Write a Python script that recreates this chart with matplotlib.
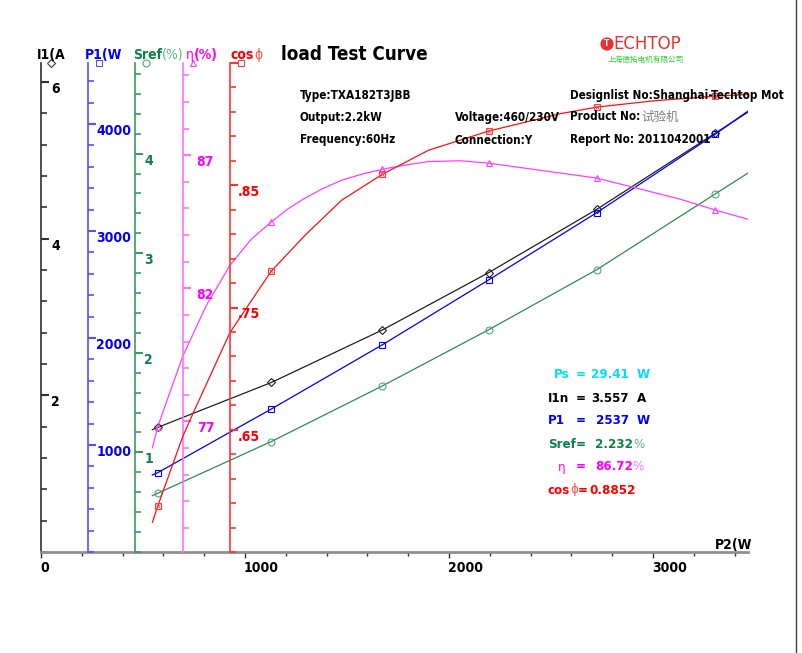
import numpy as np
import matplotlib
matplotlib.use('Agg')
import matplotlib.pyplot as plt
import matplotlib.transforms as mtransforms
from matplotlib.ticker import MultipleLocator, FixedLocator
from matplotlib import font_manager

# measured points (P2 in W)
p2_pts = [572, 1129, 1674, 2194, 2724, 3305]
i1_pts = [1.590, 2.163, 2.834, 3.564, 4.372, 5.344]
p1_pts = [741, 1336, 1937, 2542, 3171, 3904]
sref_pts = [0.590, 1.109, 1.668, 2.231, 2.834, 3.595]
eta_pts = [76.80, 84.49, 86.47, 86.70, 86.14, 84.94]
cos_pts = [0.5874, 0.7798, 0.8590, 0.8943, 0.9139, 0.9229]

# fitted curves
p2_lin = [546, 572, 1129, 1674, 2194, 2724, 3305, 3467]
i1_curve = [1.561, 1.590, 2.163, 2.834, 3.564, 4.372, 5.344, 5.615]
p1_curve = [720, 741, 1336, 1937, 2542, 3171, 3904, 4122]
sref_curve = [0.566, 0.590, 1.109, 1.668, 2.231, 2.834, 3.595, 3.806]

p2_eta = [546, 572, 695, 810, 926, 1030, 1129, 1210, 1286, 1380, 1474, 1574, 1674, 1780, 1899,
          2054, 2194, 2724, 3132, 3305, 3467]
eta_curve = [76.01, 76.80, 79.45, 81.35, 82.86, 83.84, 84.49, 84.98, 85.35, 85.74, 86.06, 86.29,
             86.47, 86.62, 86.76, 86.79, 86.70, 86.14, 85.35, 84.94, 84.59]

p2_cos = [546, 572, 695, 742, 926, 1129, 1300, 1474, 1674, 1899, 2194, 2544, 2724, 3000, 3305, 3467]
cos_curve = [0.5743, 0.5874, 0.6445, 0.6622, 0.7294, 0.7798, 0.8100, 0.8378, 0.8590, 0.8786,
             0.8943, 0.9085, 0.9139, 0.9190, 0.9229, 0.9243]

# rated values box
rated_names = ['Ps', 'I1n', 'P1', 'Sref', 'η', 'cosϕ']
rated_values = ['29.41', '3.557', '2537', '2.232', '86.72', '0.8852']
rated_units = ['W', 'A', 'W', '%', '%', '']
rated_colors = ['#00e0f0', '#000000', '#0000ff', '#108048', '#ff00ff', '#ff0000']

x_ticks = [0, 1000, 2000, 3000]
x_ticklabels = ['0', '1000', '2000', '3000']

names = {f.name for f in font_manager.fontManager.ttflist}
FAM = [n for n in ['Liberation Sans Narrow', 'DejaVu Sans Condensed'] if n in names] + ['DejaVu Sans']
CJK = ['Noto Sans CJK SC', 'DejaVu Sans']
plt.rcParams['font.stretch'] = 'condensed'

W, H = 803, 653
fig = plt.figure(figsize=(W / 100, H / 100), dpi=100)
fig.patch.set_facecolor('white')
renderer = fig.canvas.get_renderer()

def ftext(x, y, s, **kw):
    kw.setdefault('family', FAM)
    return fig.text(x / W, 1 - y / H, s, **kw)

def after(prev, s, gap=0, **kw):
    # put a text right after the previous one on the same line
    bb = prev.get_window_extent(renderer)
    y = prev.get_position()[1]
    kw.setdefault('family', FAM)
    kw.setdefault('va', prev.get_va())
    return fig.text((bb.x1 + gap) / W, y, s, **kw)

x0, x1, ytop, ybot = 41, 748, 63, 552
ax = fig.add_axes([x0 / W, (H - ybot) / H, (x1 - x0) / W, (ybot - ytop) / H])
ax.set_xlim(0, 3466)
ax.patch.set_alpha(0)
for s in ['top', 'right']:
    ax.spines[s].set_visible(False)
ax.spines['bottom'].set_color('#909090')
ax.spines['bottom'].set_linewidth(2)
ax.xaxis.set_major_locator(FixedLocator(x_ticks))
ax.xaxis.set_minor_locator(MultipleLocator(200))
ax.tick_params(axis='x', which='both', direction='out', length=3, width=1, color='#303030',
               labelbottom=False)
ax.tick_params(axis='x', which='major', length=4)

def setup_axis(a, ylim, majors, minor, axcol):
    a.set_ylim(*ylim)
    a.set_xlim(0, 3466)
    a.yaxis.set_major_locator(FixedLocator(majors))
    if isinstance(minor, (list, np.ndarray)):
        a.yaxis.set_minor_locator(FixedLocator(minor))
    else:
        a.yaxis.set_minor_locator(MultipleLocator(minor))
    a.tick_params(axis='y', which='major', direction='in', length=6, width=1.5, color=axcol,
                  labelleft=False, labelright=False)
    a.tick_params(axis='y', which='minor', direction='in', length=4, width=1.2, color=axcol)
    a.spines['left'].set_color(axcol)
    a.spines['left'].set_linewidth(1.2)

fracs = [0.0, 0.0669, 0.1334, 0.2004, 0.2678]
axes = [ax]
for f in fracs[1:]:
    t = ax.twinx()
    t.patch.set_visible(False)
    for s in ['top', 'right', 'bottom']:
        t.spines[s].set_visible(False)
    t.spines['left'].set_visible(True)
    t.spines['left'].set_position(('axes', f))
    t.yaxis.set_ticks_position('left')
    axes.append(t)
ax_i1, ax_p1, ax_sr, ax_eta, ax_cos = axes

axis_cols = ['#303030', '#5050ff', '#3a9a6a', '#ff70ff', '#ff3333']
text_cols = ['#000000', '#0000ff', '#10804a', '#ff00ff', '#ff0000']
setup_axis(ax_i1, (0, 6.24), [2, 4, 6], 0.4, axis_cols[0])
setup_axis(ax_p1, (0, 4570), [1000, 2000, 3000, 4000], 200, axis_cols[1])
setup_axis(ax_sr, (0, 4.91), [1, 2, 3, 4], 0.2, axis_cols[2])
setup_axis(ax_eta, (72.1, 90.46), [77, 82, 87], 1, axis_cols[3])
setup_axis(ax_cos, (0.55, 0.95), [0.65, 0.75, 0.85, 0.95],
           np.arange(0.55, 0.951, 0.02), axis_cols[4])

tick_labels = [
    ([2, 4, 6], ['2', '4', '6']),
    ([1000, 2000, 3000, 4000], ['1000', '2000', '3000', '4000']),
    ([1, 2, 3, 4], ['1', '2', '3', '4']),
    ([77, 82, 87], ['77', '82', '87']),
    ([0.65, 0.75, 0.85], ['.65', '.75', '.85']),
]
dxs = [10, 8, 9, 14, 7]
for a, f, (vals, labs), c, dx in zip(axes, fracs, tick_labels, text_cols, dxs):
    tr = mtransforms.blended_transform_factory(ax.transAxes, a.transData)
    tr = mtransforms.offset_copy(tr, fig=fig, x=dx, y=-7, units='dots')
    for v, l in zip(vals, labs):
        a.text(f, v, l, transform=tr, ha='left', va='center', color=c,
               fontsize=10, fontweight='bold', family=FAM)

# curves
ax_i1.plot(p2_lin, i1_curve, color='#202020', lw=0.9)
ax_i1.plot(p2_pts, i1_pts, ls='none', marker='D', ms=4, mfc='none', mec='#202020', mew=0.8)
ax_p1.plot(p2_lin, p1_curve, color='#0000ff', lw=0.9)
ax_p1.plot(p2_pts, p1_pts, ls='none', marker='s', ms=4, mfc='none', mec='#0000ff', mew=0.8)
ax_sr.plot(p2_lin, sref_curve, color='#2e8b57', lw=0.9)
ax_sr.plot(p2_pts, sref_pts, ls='none', marker='o', ms=5, mfc='none', mec='#50a878', mew=0.8)
ax_eta.plot(p2_eta, eta_curve, color='#ff40ff', lw=0.9)
ax_eta.plot(p2_pts, eta_pts, ls='none', marker='^', ms=5, mfc='none', mec='#ff40ff', mew=0.8)
ax_cos.plot(p2_cos, cos_curve, color='#ff1010', lw=0.9)
ax_cos.plot(p2_pts, cos_pts, ls='none', marker='s', ms=5, mfc='none', mec='#ff4040', mew=0.8)
ax_cos.plot(p2_pts, cos_pts, ls='none', marker='x', ms=3.5, mec='#ff4040', mew=0.6)

# symbols at the top of each axis
top_marks = [('D', '#404040', 4), ('s', '#5050ff', 4), ('o', '#50a878', 5), ('^', '#ff40ff', 5),
             ('s', '#ff4040', 5)]
for f, (m, c, ms) in zip(fracs, top_marks):
    ax.plot([f + 0.0145], [1.0], transform=ax.transAxes, marker=m, ms=ms, mfc='none', mec=c,
            mew=0.8, clip_on=False, ls='none')

# x tick labels
trx = mtransforms.blended_transform_factory(ax.transData, ax.transAxes)
trx = mtransforms.offset_copy(trx, fig=fig, x=-1, y=-16, units='dots')
for v, l in zip(x_ticks, x_ticklabels):
    ax.text(v, 0, l, transform=trx, ha='left', va='center', fontsize=10, fontweight='bold',
            family=FAM)
ftext(715, 545, 'P2(W', fontsize=10, fontweight='bold', va='center')

# axis titles
lab = dict(fontsize=10, va='center')
ftext(37, 55, 'I1(A', fontweight='bold', color='#000000', **lab)
ftext(85, 55, 'P1(W', fontweight='bold', color='#0000ff', **lab)
t = ftext(133, 55, 'Sref', fontweight='bold', color='#10804a', **lab)
after(t, '(%)', color='#60b088', fontsize=10)
t = ftext(186, 55, 'η', color='#ff00ff', **lab)
after(t, '(%)', color='#ff00ff', fontweight='bold', fontsize=10)
t = ftext(231, 55, 'cos', fontweight='bold', color='#ff0000', **lab)
after(t, 'ϕ', color='#ff5050', fontsize=10)

# title and header
ftext(281, 54, 'load Test Curve', fontsize=13.5, fontweight='bold', va='center')
fig.text(607 / W, 1 - 44 / H, 'T', fontsize=6, color='white', fontweight='bold', ha='center',
         va='center', bbox=dict(boxstyle='circle,pad=0.25', fc='#e83030', ec='none'))
ftext(613, 44, 'ECHTOP', fontsize=12, color='#e83030', va='center', family=['DejaVu Sans'],
      fontstretch='normal')
ftext(646, 60, '上海德拓电机有限公司', fontsize=5.5, color='#33cc33', va='center', ha='center',
      family=CJK)

hdr = dict(fontsize=8.4, fontweight='bold', va='center')
ftext(300, 95, 'Type:TXA182T3JBB', **hdr)
ftext(300, 117, 'Output:2.2kW', **hdr)
ftext(300, 140, 'Frequency:60Hz', **hdr)
ftext(455, 117, 'Voltage:460/230V', **hdr)
ftext(455, 140, 'Connection:Y', **hdr)
ftext(570, 95, 'Designlist No:Shanghai-Techtop Mot', **hdr)
t = ftext(570, 117, 'Product No:', **hdr)
after(t, '试验机', gap=1, fontsize=9, color='#808080', family=CJK)
ftext(570, 140, 'Report No: 2011042001', **hdr)

# rated values
row_y = [375, 398, 421, 444, 467, 490]
name_x = [554, 548, 548, 548, 558, 548]
unit_light = ['#00e0f0', '#000000', '#0000ff', '#60b088', '#ff70ff', '#ff0000']
rv = dict(fontsize=9.5, fontweight='bold', va='center')
for i in range(len(rated_names)):
    c = rated_colors[i]
    if rated_names[i] == 'cosϕ':
        t = ftext(name_x[i], row_y[i], 'cos', color=c, **rv)
        t = after(t, 'ϕ', color='#ff5050', fontsize=9.5)
        t = after(t, '=', color=c, fontsize=9.5, fontweight='bold')
        after(t, rated_values[i], gap=1, color=c, fontsize=9.5, fontweight='bold')
        continue
    ftext(name_x[i], row_y[i], rated_names[i], color=c,
          **dict(rv, fontweight='normal' if rated_names[i] == 'η' else 'bold'))
    ftext(581, row_y[i], '=', color=c, ha='center', **rv)
    if rated_units[i] == '%':
        t = ftext(595, row_y[i], rated_values[i], color=c, **rv)
        after(t, '%', color=unit_light[i], fontsize=9.5)
    else:
        ftext(629, row_y[i], rated_values[i], color=c, ha='right', **rv)
        ftext(637, row_y[i], rated_units[i], color=c, **rv)

# right border line
fig.add_artist(plt.Line2D([796 / W, 796 / W], [0, 1], color='#404040', lw=1))

fig.savefig('out.png', dpi=100, facecolor='white')
